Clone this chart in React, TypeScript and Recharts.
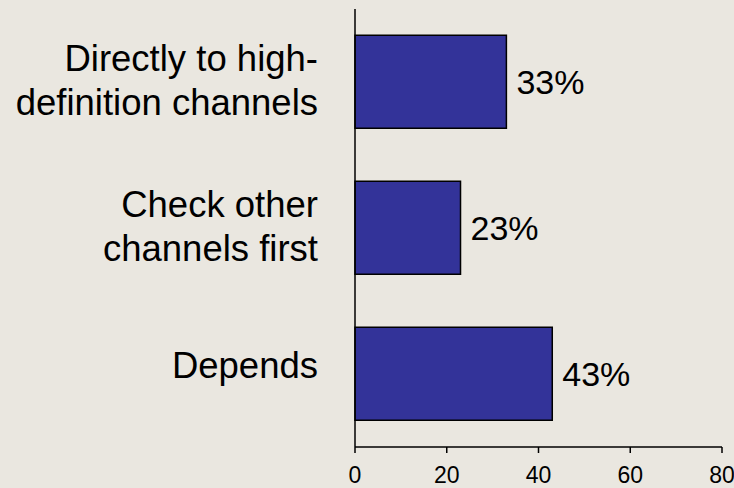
import React from 'react';
import { BarChart, Bar, XAxis, YAxis, LabelList } from 'recharts';

const categories = ['Directly to high-\ndefinition channels', 'Check other\nchannels first', 'Depends'];
const shares = [33, 23, 43];
const xTicks = [0, 20, 40, 60, 80];

const chartData = categories.map((name, i) => ({ name, value: shares[i] }));

const FONT = '"Liberation Sans", Arial, sans-serif';

const CategoryTick = ({ x, y, payload }: any) => {
  const lines: string[] = String(payload.value).split('\n');
  const first = lines.length === 1 ? y + 4 : y - 11;
  return (
    <text x={x - 29} y={first} textAnchor="end" fill="#000" fontSize={36.5} fontFamily={FONT}>
      {lines.map((line, i) => (
        <tspan key={i} x={x - 29} y={first + i * 44}>{line}</tspan>
      ))}
    </text>
  );
};

export default function App() {
  return (
    <div style={{ position: 'absolute', left: 0, top: 0, width: 734, height: 488, background: '#EAE7E0', overflow: 'hidden' }}>
      <BarChart
        width={734}
        height={488}
        data={chartData}
        layout="vertical"
        margin={{ top: 9, right: 12, bottom: 0, left: 0 }}
        barCategoryGap="18%"
      >
        <XAxis
          type="number"
          domain={[0, 80]}
          ticks={xTicks}
          height={41}
          tickSize={6}
          tickMargin={14}
          stroke="#000"
          axisLine={{ stroke: '#000', strokeWidth: 1.5 }}
          tickLine={{ stroke: '#000', strokeWidth: 1.5 }}
          tick={{ fill: '#000', fontSize: 23, fontFamily: FONT }}
        />
        <YAxis
          type="category"
          dataKey="name"
          width={355}
          tickLine={false}
          axisLine={{ stroke: '#000', strokeWidth: 1.5 }}
          tick={<CategoryTick />}
          interval={0}
        />
        <Bar dataKey="value" fill="#333399" stroke="#000" strokeWidth={1.5} isAnimationActive={false}>
          <LabelList
            dataKey="value"
            position="right"
            offset={10}
            formatter={(v: any) => `${v}%`}
            fill="#000"
            fontSize={34}
            fontFamily={FONT}
          />
        </Bar>
      </BarChart>
    </div>
  );
}
